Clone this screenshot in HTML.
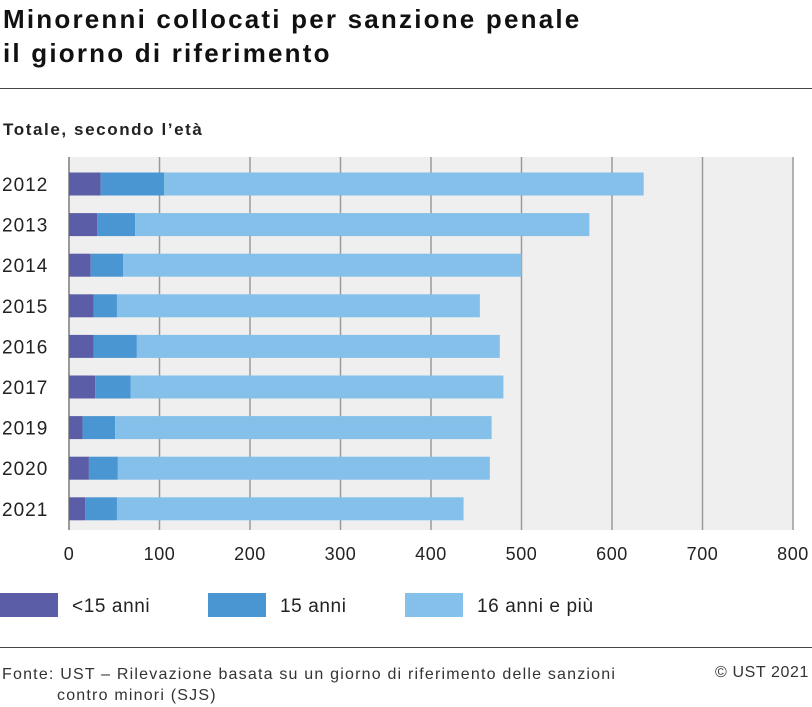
<!DOCTYPE html>
<html><head><meta charset="utf-8"><style>
body{margin:0;width:812px;height:707px;background:#fff;font-family:"Liberation Sans",sans-serif;color:#222;overflow:hidden;position:relative}
.t{position:absolute;white-space:nowrap}
</style></head><body>
<div class="t" style="left:3px;top:2px;font-size:26px;font-weight:bold;letter-spacing:2.2px;line-height:34px;color:#111">Minorenni collocati per sanzione penale<br>il giorno di riferimento</div>
<div style="position:absolute;left:0;top:88px;width:812px;height:1px;background:#444"></div>
<div class="t" style="left:3px;top:120px;font-size:17px;font-weight:bold;letter-spacing:1.6px">Totale, secondo l’età</div>
<svg id="c" width="812" height="707" style="position:absolute;left:0;top:0"></svg>
<div style="position:absolute;left:0;top:647px;width:812px;height:1px;background:#444"></div>
<div class="t" style="left:2px;top:664px;font-size:16px;letter-spacing:1.2px;line-height:21px;color:#333">Fonte: UST – Rilevazione basata su un giorno di riferimento delle sanzioni<br><span style="padding-left:55px">contro minori (SJS)</span></div>
<div class="t" style="right:3px;top:664px;font-size:16px;letter-spacing:0.6px;color:#333">© UST 2021</div>
<script>
const years=["2012","2013","2014","2015","2016","2017","2019","2020","2021"];
const under15=[35,31,24,27,27,29,15,22,18];
const age15=[70,42,36,26,48,39,36,32,35];
const age16plus=[530,502,440,401,401,412,416,411,383];
const ticks=[0,100,200,300,400,500,600,700,800];
const seriesNames=["<15 anni","15 anni","16 anni e più"];
const colors=["#5b5ea6","#4a96d2","#84c0ea"];
const svg=document.getElementById('c');const NS="http://www.w3.org/2000/svg";
const x0=69,x1=793,y0=157,y1=530,rowH=40.6,barH=23;
const X=v=>x0+v/800*(x1-x0);
const Y=i=>184+i*rowH;
function el(t,a){const e=document.createElementNS(NS,t);for(const k in a)e.setAttribute(k,a[k]);svg.appendChild(e);return e;}
let bg=el('rect',{x:x0,y:y0,width:x1-x0,height:y1-y0,fill:'#efefef'});


ticks.forEach(t=>{
 let g=el('line',{x1:X(t),x2:X(t),y1:y0,y2:y1,stroke:'#9a9a9a','stroke-width':t==0?2:1.5});
 
 
 let l=el('text',{x:X(t),y:560,'text-anchor':'middle','font-size':18,'letter-spacing':0.6,fill:'#222'});l.textContent=t;
 
 
});
years.forEach((yr,i)=>{
 let yc=Y(i);
 let l=el('text',{x:2,y:yc+7,'font-size':19,'letter-spacing':1,fill:'#222'});l.textContent=yr;
 
 
 let vals=[under15[i],age15[i],age16plus[i]],c=0;
 vals.forEach((v,s)=>{
  let r=el('rect',{x:X(c),y:yc-barH/2,width:X(c+v)-X(c),height:barH,fill:colors[s]});
  
  
  c+=v;
 });
});
const lx=[0,208,405];
seriesNames.forEach((n,s)=>{
 let r=el('rect',{x:lx[s],y:593,width:58,height:24,fill:colors[s]});
 
 
 let t=el('text',{x:lx[s]+72,y:612,'font-size':19,'letter-spacing':0.6,fill:'#222'});t.textContent=n;
 
 
});
</script>
</body></html>
